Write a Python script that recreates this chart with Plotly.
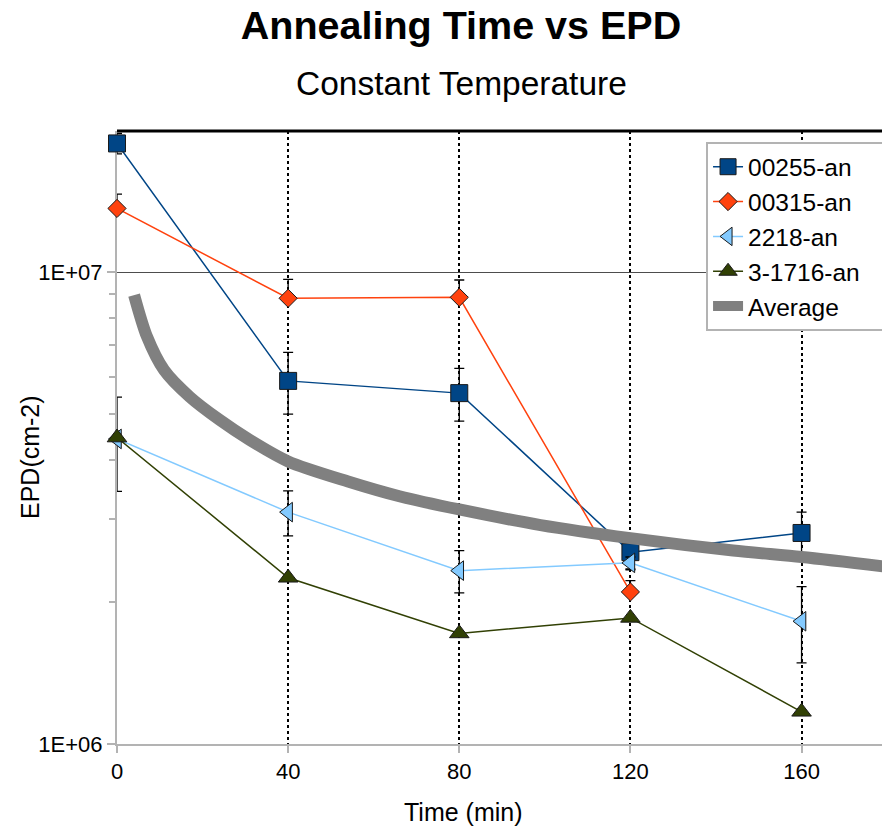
import plotly.graph_objects as go

# Annealing time (min) at which EPD was measured
times = [0, 40, 80, 120, 160]

# EPD (cm-2) per sample, with error bar half-widths
epd_00255 = [1.873e7, 5.88e6, 5.54e6, 2.55e6, 2.80e6]
err_00255 = [0.93e6, 0.88e6, 0.71e6, 0.21e6, 0.30e6]

times_00315 = [0, 40, 80, 120]
epd_00315 = [1.364e7, 8.80e6, 8.84e6, 2.10e6]
err_00315_plus = [0.99e6, 0.85e6, 0.78e6, 0.12e6]
err_00315_minus = [0, 0, 0, 0]

epd_2218 = [4.43e6, 3.10e6, 2.33e6, 2.42e6, 1.82e6]
err_2218 = [1.00e6, 0.34e6, 0.24e6, 0.07e6, 0.335e6]

epd_31716 = [4.46e6, 2.25e6, 1.715e6, 1.85e6, 1.17e6]

# Average trend across samples
avg_t = [4, 7, 11, 17, 24, 31, 40, 54, 66, 80, 99, 120, 144, 160, 179]
avg_v = [8.94e6, 7.30e6, 6.20e6, 5.44e6, 4.86e6, 4.41e6, 3.97e6, 3.60e6,
         3.35e6, 3.14e6, 2.91e6, 2.73e6, 2.57e6, 2.49e6, 2.38e6]

x_ticks = [0, 40, 80, 120, 160]
y_ticks = [1e6, 1e7]
y_tick_text = ["1E+06", "1E+07"]
y_minor = [2e6, 3e6, 4e6, 5e6, 6e6, 7e6, 8e6, 9e6, 2e7]

FONT = "Liberation Sans, Arial, sans-serif"
EDGE = "#1a1a1a"
PAD = "\u00a0\u00a0\u00a0"  # widens the legend box past the right edge

fig = go.Figure()

fig.add_trace(go.Scatter(
    x=times, y=epd_00255, name="00255-an", mode="lines+markers", cliponaxis=False,
    line=dict(color="#004586", width=1.5),
    marker=dict(symbol="square", size=17, color="#004586", line=dict(color=EDGE, width=1)),
    error_y=dict(type="data", array=err_00255, symmetric=True, color="black", thickness=1.3, width=5),
))
fig.add_trace(go.Scatter(
    x=times_00315, y=epd_00315, name="00315-an", mode="lines+markers", cliponaxis=False,
    line=dict(color="#ff420e", width=1.5),
    marker=dict(symbol="diamond", size=14, color="#ff420e", line=dict(color=EDGE, width=1)),
    error_y=dict(type="data", array=err_00315_plus, arrayminus=err_00315_minus, symmetric=False,
                 color="black", thickness=1.3, width=5),
))
fig.add_trace(go.Scatter(
    x=times, y=epd_2218, name="2218-an", mode="lines+markers", cliponaxis=False,
    line=dict(color="#83caff", width=1.5),
    marker=dict(symbol="triangle-left", size=17, color="#83caff", line=dict(color=EDGE, width=1)),
    error_y=dict(type="data", array=err_2218, symmetric=True, color="black", thickness=1.3, width=5),
))
fig.add_trace(go.Scatter(
    x=times, y=epd_31716, name="3-1716-an" + PAD, mode="lines+markers", cliponaxis=False,
    line=dict(color="#314004", width=1.5),
    marker=dict(symbol="triangle-up", size=17, color="#314004", line=dict(color=EDGE, width=1)),
))
fig.add_trace(go.Scatter(
    x=avg_t, y=avg_v, name="Average", mode="lines",
    line=dict(color="#808080", width=12, shape="spline", smoothing=0.8),
))

fig.update_layout(
    width=882, height=829,
    margin=dict(l=117, r=0, t=131, b=85, autoexpand=False),
    paper_bgcolor="white", plot_bgcolor="white",
    font=dict(family=FONT, color="black"),
    title=dict(text="<b>Annealing Time vs EPD</b>", x=461 / 882, xanchor="center",
               y=1 - 25 / 829, yanchor="middle", font=dict(size=39.5, family=FONT, color="black")),
    showlegend=True,
    legend=dict(x=0.770, y=0.9816, xanchor="left", yanchor="top",
                bgcolor="white", bordercolor="#b3b3b3", borderwidth=2,
                font=dict(size=24.5, family=FONT, color="black")),
    annotations=[
        dict(text="Constant Temperature", xref="paper", yref="paper", x=0.4503, y=1.0777,
             xanchor="center", yanchor="middle", showarrow=False,
             font=dict(size=33.5, family=FONT, color="black")),
        dict(text="Time (min)", xref="paper", yref="paper", x=0.4523, y=-0.1103,
             xanchor="center", yanchor="middle", showarrow=False,
             font=dict(size=25, family=FONT, color="black")),
        dict(text="EPD(cm-2)", xref="paper", yref="paper", x=-0.1137, y=0.4682,
             xanchor="center", yanchor="middle", showarrow=False, textangle=-90,
             font=dict(size=25, family=FONT, color="black")),
    ],
    shapes=[
        dict(type="line", xref="paper", yref="paper", x0=0, x1=1, y0=1, y1=1,
             line=dict(color="black", width=3)),
    ],
)

fig.update_xaxes(
    range=[0, 178.8], tickmode="array", tickvals=x_ticks,
    showline=True, linecolor="#b3b3b3", linewidth=2, layer="below traces",
    ticks="outside", ticklen=7, tickwidth=2, tickcolor="#b3b3b3",
    showgrid=True, gridcolor="black", gridwidth=2, griddash="dot",
    zeroline=False, tickfont=dict(size=22, family=FONT, color="black"),
)
fig.update_yaxes(
    type="log", range=[6, 7.2989], tickmode="array", tickvals=y_ticks, ticktext=y_tick_text,
    showline=True, linecolor="#b3b3b3", linewidth=2, layer="below traces",
    ticks="outside", ticklen=8, tickwidth=2, tickcolor="#b3b3b3",
    showgrid=True, gridcolor="#4d4d4d", gridwidth=1.3,
    minor=dict(tickmode="array", tickvals=y_minor, ticks="outside", ticklen=6,
               tickwidth=2, tickcolor="#b3b3b3", showgrid=False),
    zeroline=False, tickfont=dict(size=22, family=FONT, color="black"),
)

fig.write_html("out.html")
